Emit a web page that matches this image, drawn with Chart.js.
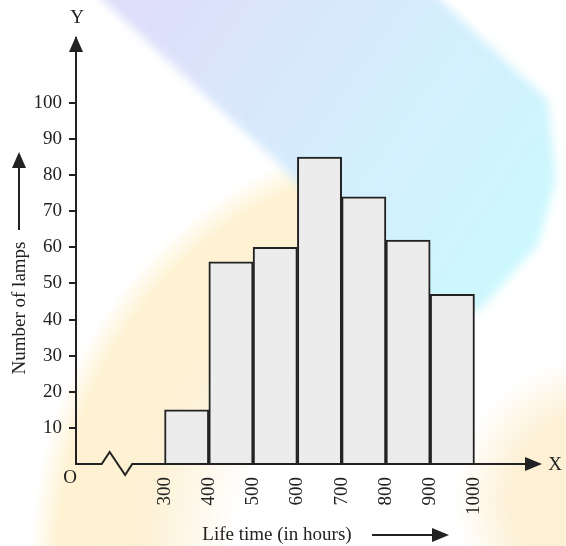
<!DOCTYPE html>
<html>
<head>
<meta charset="utf-8">
<script src="https://cdn.jsdelivr.net/npm/chart.js@4.4.1/dist/chart.umd.min.js"></script>
<style>
  html, body { margin: 0; padding: 0; background: #fff; }
  #wrap { position: relative; width: 566px; height: 546px; }
</style>
</head>
<body>
<div id="wrap"><canvas id="myChart" width="566" height="546"></canvas></div>
<script>
// histogram data
const binStarts = [300, 400, 500, 600, 700, 800, 900];
const binEnds = [400, 500, 600, 700, 800, 900, 1000];
const lampCounts = [15, 56, 60, 85, 74, 62, 47];
const yTickValues = [10, 20, 30, 40, 50, 60, 70, 80, 90, 100];
const xTickValues = [300, 400, 500, 600, 700, 800, 900, 1000];

const serif = '"Liberation Serif", "DejaVu Serif", serif';
const ink = '#222';

let bars = binStarts.map((s, i) => ({ x: (s + binEnds[i]) / 2, y: lampCounts[i] }));

// soft watermark behind the chart
const backdrop = {
    id: 'backdrop',
    beforeDraw(chart) {
        const ctx = chart.ctx;
        const w = chart.width, h = chart.height;
        ctx.save();

        // peach arc, lower left (kept to the left half)
        ctx.save();
        ctx.beginPath();
        ctx.moveTo(0, 0);
        ctx.lineTo(330, 0);
        ctx.lineTo(400, 300);
        ctx.lineTo(430, h);
        ctx.lineTo(0, h);
        ctx.closePath();
        ctx.clip();
        ctx.translate(440, 560);
        ctx.scale(1, 420 / 400);
        let rg = ctx.createRadialGradient(0, 0, 0, 0, 0, 410);
        rg.addColorStop(0.5, 'rgba(253,241,214,0)');
        rg.addColorStop(0.72, 'rgba(253,241,213,1)');
        rg.addColorStop(0.93, 'rgba(254,242,210,1)');
        rg.addColorStop(1, 'rgba(254,242,210,0)');
        ctx.fillStyle = rg;
        ctx.fillRect(-440, -600, w + 200, h + 200);
        ctx.restore();

        // peach blob, lower right
        let rg2 = ctx.createRadialGradient(600, 500, 0, 600, 500, 145);
        rg2.addColorStop(0.6, 'rgba(253,240,212,1)');
        rg2.addColorStop(1, 'rgba(253,240,212,0)');
        ctx.fillStyle = rg2;
        ctx.fillRect(0, 0, w, h);

        // lavender to cyan band, top
        let lg = ctx.createLinearGradient(150, 0, 520, 260);
        lg.addColorStop(0, 'rgb(222,222,250)');
        lg.addColorStop(0.45, 'rgb(214,236,252)');
        lg.addColorStop(1, 'rgb(204,248,253)');
        ctx.filter = 'blur(5px)';
        ctx.fillStyle = lg;
        ctx.beginPath();
        ctx.moveTo(92, -10);
        ctx.lineTo(430, -10);
        ctx.lineTo(548, 100);
        ctx.lineTo(556, 180);
        ctx.lineTo(538, 245);
        ctx.lineTo(478, 312);
        ctx.lineTo(400, 292);
        ctx.lineTo(277, 162);
        ctx.closePath();
        ctx.fill();
        ctx.restore();
    }
};

// arrows, labels and the broken x axis
const decorations = {
    id: 'decorations',
    afterDatasetsDraw(chart) {
        const ctx = chart.ctx;
        const area = chart.chartArea;
        const xs = chart.scales.x;
        const ys = chart.scales.y;
        const y0 = ys.getPixelForValue(0);
        const x0 = area.left;

        function arrowHead(tx, ty, dir) {
            ctx.beginPath();
            if (dir === 'up') {
                ctx.moveTo(tx, ty);
                ctx.lineTo(tx - 7, ty + 16);
                ctx.lineTo(tx + 7, ty + 16);
            } else {
                ctx.moveTo(tx, ty);
                ctx.lineTo(tx - 17, ty - 7);
                ctx.lineTo(tx - 17, ty + 7);
            }
            ctx.closePath();
            ctx.fill();
        }

        ctx.save();
        ctx.strokeStyle = ink;
        ctx.fillStyle = ink;
        ctx.lineWidth = 2;

        // x axis with the break near the origin
        ctx.beginPath();
        ctx.moveTo(x0, y0);
        ctx.lineTo(xs.getPixelForValue(158), y0);
        ctx.lineTo(xs.getPixelForValue(176), y0 - 12);
        ctx.lineTo(xs.getPixelForValue(211), y0 + 11);
        ctx.lineTo(xs.getPixelForValue(227), y0);
        ctx.lineTo(area.right - 8, y0);
        ctx.stroke();
        arrowHead(area.right + 2, y0, 'right');
        arrowHead(x0, area.top - 2, 'up');

        ctx.font = '19px ' + serif;
        ctx.textAlign = 'center';
        ctx.textBaseline = 'middle';
        ctx.fillText('Y', x0 + 1, area.top - 20);
        ctx.fillText('X', area.right + 15, y0 + 1);
        ctx.fillText('O', x0 - 6, y0 + 14);

        // x title + arrow
        ctx.fillText('Life time (in hours)', 277, 535);
        ctx.beginPath();
        ctx.moveTo(372, 535);
        ctx.lineTo(435, 535);
        ctx.stroke();
        arrowHead(449, 535, 'right');

        // y title + arrow
        ctx.save();
        ctx.translate(20, 308);
        ctx.rotate(-Math.PI / 2);
        ctx.fillText('Number of lamps', 0, 0);
        ctx.restore();
        ctx.beginPath();
        ctx.moveTo(19, 230);
        ctx.lineTo(19, 165);
        ctx.stroke();
        arrowHead(19, 152, 'up');

        ctx.restore();
    }
};

const myChart = new Chart(document.getElementById('myChart'), {
    type: 'bar',
    data: {
        datasets: [{
            data: bars,
            backgroundColor: '#ececec',
            borderColor: ink,
            borderWidth: 2,
            borderSkipped: 'start',
            barPercentage: 1,
            categoryPercentage: 1
        }]
    },
    options: {
        responsive: false,
        animation: false,
        layout: { padding: { top: 38, right: 26, left: 0, bottom: 0 } },
        plugins: {
            legend: { display: false },
            tooltip: { enabled: false }
        },
        scales: {
            x: {
                type: 'linear',
                offset: false,
                min: 100,
                max: 1148,
                afterBuildTicks: s => { s.ticks = xTickValues.map(v => ({ value: v })); },
                afterFit: s => { s.height = 82; },
                border: { display: false },
                grid: { display: false, drawTicks: false },
                ticks: {
                    autoSkip: false,
                    minRotation: 90,
                    maxRotation: 90,
                    padding: 13,
                    color: ink,
                    font: { family: serif, size: 19 },
                    callback: v => String(v)
                }
            },
            y: {
                min: 0,
                max: 118,
                afterBuildTicks: s => { s.ticks = yTickValues.map(v => ({ value: v })); },
                afterFit: s => { s.width = 76; },
                border: { display: true, color: ink, width: 2 },
                grid: { drawOnChartArea: false, drawTicks: true, tickLength: 7, color: ink, lineWidth: 2 },
                ticks: {
                    padding: 7,
                    color: ink,
                    font: { family: serif, size: 19 }
                }
            }
        }
    },
    plugins: [backdrop, decorations]
});
</script>
</body>
</html>
